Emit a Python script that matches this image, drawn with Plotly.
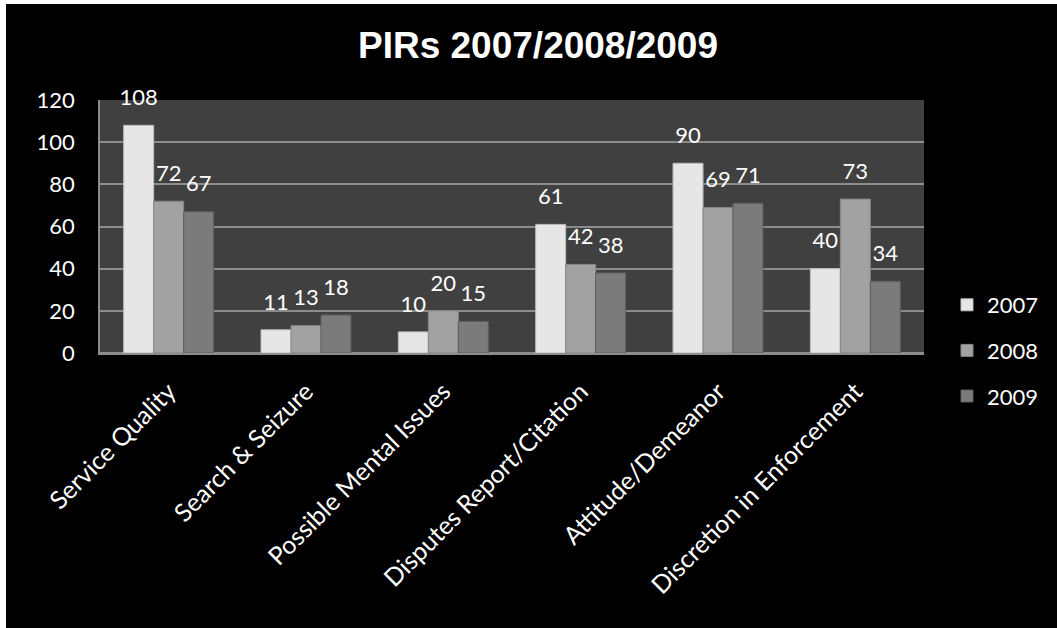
import plotly.graph_objects as go

categories = ["Service Quality", "Search & Seizure", "Possible Mental Issues",
              "Disputes Report/Citation", "Attitude/Demeanor", "Discretion in Enforcement"]
series_names = ["2007", "2008", "2009"]
values_2007 = [108, 11, 10, 61, 90, 40]
values_2008 = [72, 13, 20, 42, 69, 73]
values_2009 = [67, 18, 15, 38, 71, 34]
y_ticks = [0, 20, 40, 60, 80, 100, 120]

colors = ["#e6e6e6", "#a2a2a2", "#7b7b7b"]
line_colors = ["#bdbdbd", "#858585", "#5e5e5e"]
FONT = "Lato"
GAP = 0.345

W, H = 1057, 628
ML, MR, MT, MB = 100, 133, 100, 275
PW, PH = W - ML - MR, H - MT - MB

def px_to_paper_x(px):
    return (px - ML) / PW

def px_to_paper_y(py):
    return (H - MB - py) / PH

fig = go.Figure()
all_vals = [values_2007, values_2008, values_2009]
for i, (name, vals, c, lc) in enumerate(zip(series_names, all_vals, colors, line_colors)):
    fig.add_trace(go.Bar(
        x=categories, y=vals, name=name,
        marker=dict(color=c, line=dict(color=lc, width=1)),
        offsetgroup=str(i),
        legendgroup=name,
    ))
for i, (name, vals) in enumerate(zip(series_names, all_vals)):
    fig.add_trace(go.Scatter(
        x=categories, y=vals, mode="markers+text",
        text=[str(v) for v in vals],
        textposition="top center",
        textfont=dict(color="white", size=22, family=FONT),
        marker=dict(size=22, opacity=0),
        offsetgroup=str(i),
        cliponaxis=False,
        showlegend=False, hoverinfo="skip",
    ))

fig.update_layout(
    width=W, height=H,
    margin=dict(l=ML, r=MR, t=MT, b=MB, autoexpand=False),
    paper_bgcolor="black",
    plot_bgcolor="#404040",
    barmode="group",
    bargap=GAP,
    bargroupgap=0,
    scattermode="group",
    scattergap=GAP,
    showlegend=True,
    legend=dict(
        x=px_to_paper_x(947), y=px_to_paper_y(284), xanchor="left", yanchor="top",
        font=dict(color="white", size=22, family=FONT),
        bgcolor="rgba(0,0,0,0)",
        traceorder="grouped", tracegroupgap=14,
        itemwidth=30,
    ),
    xaxis=dict(
        tickangle=-45,
        tickfont=dict(color="white", size=25, family=FONT),
        ticklabelstandoff=12,
        showline=True, linecolor="#8c8c8c", linewidth=2,
        showgrid=False,
    ),
    yaxis=dict(
        range=[0, 120],
        tickvals=y_ticks,
        ticktext=[str(v) for v in y_ticks],
        tickfont=dict(color="white", size=22, family=FONT),
        ticklabelstandoff=19,
        showgrid=True, gridcolor="#8c8c8c", gridwidth=1.5,
        zeroline=True, zerolinecolor="#8c8c8c", zerolinewidth=2,
        showline=True, linecolor="#8c8c8c", linewidth=1.5,
    ),
    annotations=[dict(
        text="<b>PIRs 2007/2008/2009</b>",
        x=px_to_paper_x(538), y=px_to_paper_y(46), xref="paper", yref="paper",
        xanchor="center", yanchor="middle", showarrow=False,
        font=dict(color="white", size=37, family="Liberation Sans, Arial"),
    )],
    shapes=[
        dict(type="rect", xref="paper", yref="paper",
             x0=px_to_paper_x(-5), x1=px_to_paper_x(6), y0=px_to_paper_y(H + 5), y1=px_to_paper_y(-5),
             fillcolor="white", line=dict(width=0), layer="above"),
        dict(type="rect", xref="paper", yref="paper",
             x0=px_to_paper_x(-5), x1=px_to_paper_x(W + 5), y0=px_to_paper_y(4), y1=px_to_paper_y(-5),
             fillcolor="white", line=dict(width=0), layer="above"),
    ],
)

fig.write_html("out.html", post_script="document.body.style.margin='0';document.body.style.background='black';")
